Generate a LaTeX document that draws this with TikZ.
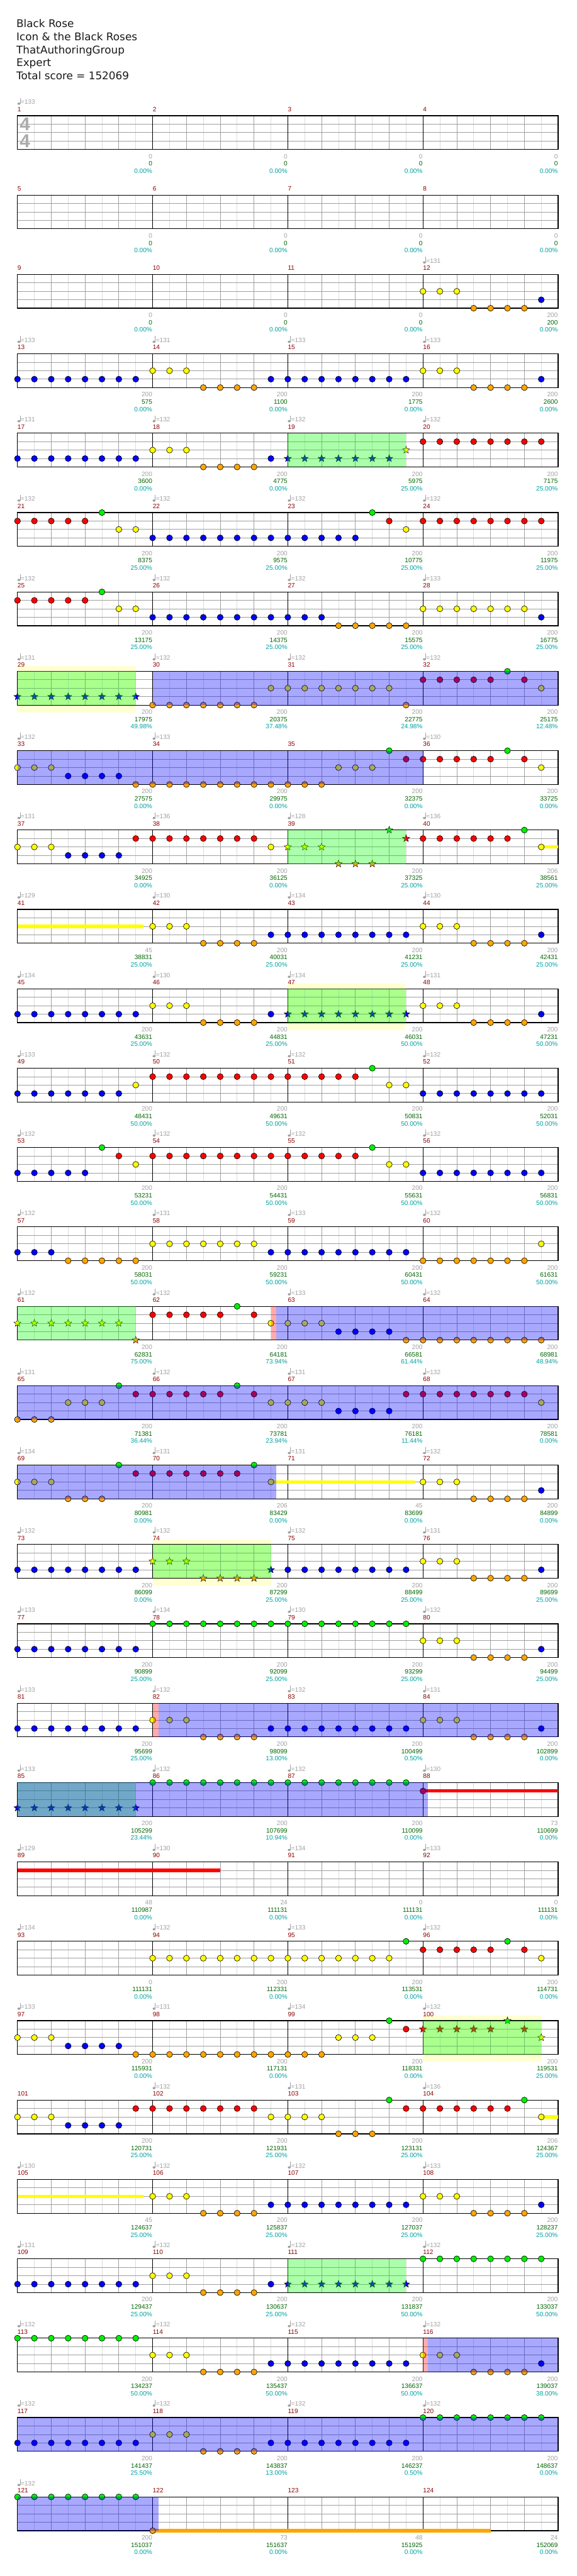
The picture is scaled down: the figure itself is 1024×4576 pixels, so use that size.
\documentclass[tikz,border=0pt]{standalone}
\usepackage{fontspec}
\setmainfont{Liberation Sans}
\newfontfamily\headfont{DejaVu Sans}
\usepackage{xcolor}
\usepackage{tikz}
\usetikzlibrary{shapes.geometric}

\definecolor{notegreen}{HTML}{00F000}
\definecolor{notered}{HTML}{FF0000}
\definecolor{noteyellow}{HTML}{FFFF00}
\definecolor{noteblue}{HTML}{0000FF}
\definecolor{noteorange}{HTML}{FFA500}
\definecolor{barred}{HTML}{8B0000}
\definecolor{labgray}{HTML}{A0A0A0}
\definecolor{scoregreen}{HTML}{006400}
\definecolor{pctcyan}{HTML}{00A0A0}
\definecolor{gridgray}{HTML}{A0A0A0}
\definecolor{gridlight}{HTML}{DCDCDC}
\definecolor{paleyellow}{HTML}{FFFFD2}
\definecolor{spgreen}{RGB}{0,255,0}
\definecolor{odblue}{RGB}{0,0,255}
\definecolor{odred}{RGB}{255,0,0}

% lane offsets (from top line of a staff)
\def\laneg{0}\def\laner{15}\def\laney{30}\def\laneb{45}\def\laneo{60}
\def\laneG{0}\def\laneR{15}\def\laneY{30}\def\laneB{45}\def\laneO{60}

% one note: #1 = eighth index, #2 = lane letter (capital = star note)
\newcommand{\fret}[2]{%
  \if#2-\else
    \edef\laneoff{\csname lane#2\endcsname}%
    \pgfmathsetmacro{\notex}{\barx+30*#1}%
    \pgfmathsetmacro{\notey}{\bary+\laneoff}%
    \ifnum\lccode`#2=`#2\relax
      \filldraw[fretnote, fret #2] (\notex,\notey) circle[radius=5.3pt];%
    \else
      \node[starnote, fret #2] (star\curbar-#1) at (\notex,\notey) {};%
    \fi
  \fi}
\def\parsefrets#1#2#3#4#5#6#7#8{\fret0#1\fret1#2\fret2#3\fret3#4\fret4#5\fret5#6\fret6#7\fret7#8}

% one measure: number, tempo, base, score, percent, notes
\newcommand{\chartbar}[6]{%
  \pgfmathsetmacro{\barx}{31+240*mod(#1-1,4)}%
  \pgfmathsetmacro{\bary}{205.5+141*int((#1-1)/4)}%
  \pgfmathsetmacro{\barend}{\barx+240}%
  \def\curbar{#1}%
  \node[barlabel] (bar#1) at (\barx,\bary-7.5) {#1};%
  \if\relax\detokenize{#2}\relax\else
    \fill[labgray] (\barx+2.5,\bary-21.3) ellipse[x radius=2.6pt, y radius=2pt];%
    \draw[labgray, line width=0.9pt] (\barx+4.8,\bary-21.3) -- (\barx+4.8,\bary-31.5);%
    \node[tempolabel] (tempo#1) at (\barx+5.6,\bary-20.2) {=#2};%
  \fi
  \node[baselabel] (base#1) at (\barend-0.5,\bary+76.3) {#3};%
  \node[scorelabel] (score#1) at (\barend-0.5,\bary+89.3) {#4};%
  \node[pctlabel] (pct#1) at (\barend-0.5,\bary+102.3) {#5\%};%
  \parsefrets#6%
}

% shaded zones: style, row, x1, x2
\newcommand{\zone}[4]{%
  \pgfmathsetmacro{\rowy}{205.5+141*#2}%
  \fill[#1] (#3,\rowy) rectangle (#4,\rowy+60);}
\newcommand{\whammyzone}[3]{%
  \pgfmathsetmacro{\rowy}{205.5+141*#1}%
  \fill[paleyellow] (#2,\rowy-9) rectangle (#3,\rowy+73);}
% sustain tails: colour, row, lane, x1, x2
\newcommand{\tail}[5]{%
  \pgfmathsetmacro{\rowy}{205.5+141*#2+#3}%
  \fill[#1] (#4,\rowy-3) rectangle (#5,\rowy+3);}

\begin{document}
\begin{tikzpicture}[
    x=1pt, y=-1pt,
    headline/.style={font=\headfont\fontsize{18.8}{20}\selectfont, anchor=base west, inner sep=0pt, text=black!90},
    barlabel/.style={font=\fontsize{11.3}{12}\selectfont, text=barred, anchor=base west, inner sep=0pt},
    tempolabel/.style={font=\fontsize{11.3}{12}\selectfont, text=labgray, anchor=base west, inner sep=0pt},
    baselabel/.style={font=\fontsize{11.3}{12}\selectfont, text=labgray, anchor=base east, inner sep=0pt},
    scorelabel/.style={font=\fontsize{11.3}{12}\selectfont, text=scoregreen, anchor=base east, inner sep=0pt},
    pctlabel/.style={font=\fontsize{11.3}{12}\selectfont, text=pctcyan, anchor=base east, inner sep=0pt},
    timesig/.style={font=\fontsize{33}{33}\selectfont\bfseries, text=black!33, anchor=base, inner sep=0pt},
    halfbeat/.style={draw=gridlight, line width=0.9pt},
    beatline/.style={draw=gridgray, line width=0.9pt},
    barline/.style={draw=black, line width=0.9pt},
    staffline/.style={draw=black, line width=1.3pt},
    fretnote/.style={draw=black, line width=0.7pt},
    starnote/.style={star, star points=5, star point ratio=2.4, minimum size=13.5pt, inner sep=0pt, draw=black, line width=0.5pt},
    fret g/.style={fill=notegreen}, fret G/.style={fill=notegreen},
    fret r/.style={fill=notered}, fret R/.style={fill=notered},
    fret y/.style={fill=noteyellow}, fret Y/.style={fill=noteyellow},
    fret b/.style={fill=noteblue}, fret B/.style={fill=noteblue},
    fret o/.style={fill=noteorange}, fret O/.style={fill=noteorange},
    spzone/.style={fill=spgreen, fill opacity=0.33},
    odzone/.style={fill=odblue, fill opacity=0.34},
    odstart/.style={fill=odred, fill opacity=0.33}
]
\useasboundingbox (0,0) rectangle (1024,4576);

% Header
\node[headline] (title) at (29,49) {Black Rose};
\node[headline] (artist) at (29,72) {Icon \& the Black Roses};
\node[headline] (charter) at (29,95) {ThatAuthoringGroup};
\node[headline] (level) at (29,118) {Expert};
\node[headline] (total) at (29,141) {Total score = 152069};

% Whammy zones
\whammyzone{7}{31}{241}
\whammyzone{11}{511}{721}
\whammyzone{18}{271}{481}
\whammyzone{24}{751}{961}

% Staves
\foreach \r in {0,...,30}{
  \pgfmathsetmacro{\rowy}{205.5+141*\r}
  \foreach \k in {0,...,15} \draw[halfbeat] ({61+60*\k},\rowy) -- ++(0,60);
  \foreach \k in {1,2,3,5,6,7,9,10,11,13,14,15} \draw[beatline] ({31+60*\k},\rowy) -- ++(0,60);
  \foreach \l in {15,30,45} \draw[beatline] (31,\rowy+\l) -- (991,\rowy+\l);
  \foreach \k in {1,2,3} \draw[barline] ({31+240*\k},\rowy) -- ++(0,60);
  \draw[staffline] (31,\rowy) rectangle (991,\rowy+60);
}
\node[timesig] (tsupper) at (44.2,232.3) {4};
\node[timesig] (tslower) at (44.2,262.3) {4};

% Sustains
\tail{noteyellow}{9}{30}{961}{991}
\tail{noteyellow}{10}{30}{31}{255}
\tail{noteyellow}{17}{30}{481}{736}
\tail{notered}{21}{15}{751}{991}
\tail{notered}{22}{15}{31}{391}
\tail{noteyellow}{25}{30}{961}{991}
\tail{noteyellow}{26}{30}{31}{255}
\tail{noteorange}{30}{60}{271}{871}

% Measures
\chartbar{1}{133}{0}{0}{0.00}{--------}
\chartbar{2}{}{0}{0}{0.00}{--------}
\chartbar{3}{}{0}{0}{0.00}{--------}
\chartbar{4}{}{0}{0}{0.00}{--------}
\chartbar{5}{}{0}{0}{0.00}{--------}
\chartbar{6}{}{0}{0}{0.00}{--------}
\chartbar{7}{}{0}{0}{0.00}{--------}
\chartbar{8}{}{0}{0}{0.00}{--------}
\chartbar{9}{}{0}{0}{0.00}{--------}
\chartbar{10}{}{0}{0}{0.00}{--------}
\chartbar{11}{}{0}{0}{0.00}{--------}
\chartbar{12}{131}{200}{200}{0.00}{yyyoooob}
\chartbar{13}{133}{200}{575}{0.00}{bbbbbbbb}
\chartbar{14}{131}{200}{1100}{0.00}{yyyoooob}
\chartbar{15}{133}{200}{1775}{0.00}{bbbbbbbb}
\chartbar{16}{133}{200}{2600}{0.00}{yyyoooob}
\chartbar{17}{131}{200}{3600}{0.00}{bbbbbbbb}
\chartbar{18}{132}{200}{4775}{0.00}{yyyoooob}
\chartbar{19}{132}{200}{5975}{25.00}{BBBBBBBY}
\chartbar{20}{132}{200}{7175}{25.00}{rrrrrrrr}
\chartbar{21}{132}{200}{8375}{25.00}{rrrrrgyy}
\chartbar{22}{132}{200}{9575}{25.00}{bbbbbbbb}
\chartbar{23}{132}{200}{10775}{25.00}{bbbbbgry}
\chartbar{24}{132}{200}{11975}{25.00}{rrrrrrrr}
\chartbar{25}{132}{200}{13175}{25.00}{rrrrrgyy}
\chartbar{26}{132}{200}{14375}{25.00}{bbbbbbbb}
\chartbar{27}{132}{200}{15575}{25.00}{bbbooooo}
\chartbar{28}{133}{200}{16775}{25.00}{yyyyyyyb}
\chartbar{29}{131}{200}{17975}{49.98}{BBBBBBBB}
\chartbar{30}{132}{200}{20375}{37.48}{oooooooy}
\chartbar{31}{132}{200}{22775}{24.98}{yyyyyyyo}
\chartbar{32}{132}{200}{25175}{12.48}{rrrrrgry}
\chartbar{33}{132}{200}{27575}{0.00}{yyybbbbo}
\chartbar{34}{133}{200}{29975}{0.00}{oooooooo}
\chartbar{35}{}{200}{32375}{0.00}{oooyyygr}
\chartbar{36}{130}{200}{33725}{0.00}{rrrrrgry}
\chartbar{37}{131}{200}{34925}{0.00}{yyybbbbr}
\chartbar{38}{136}{200}{36125}{0.00}{rrrrrrry}
\chartbar{39}{128}{200}{37325}{25.00}{YYYOOOGR}
\chartbar{40}{136}{206}{38561}{25.00}{rrrrrrgy}
\chartbar{41}{129}{45}{38831}{25.00}{--------}
\chartbar{42}{130}{200}{40031}{25.00}{yyyoooob}
\chartbar{43}{134}{200}{41231}{25.00}{bbbbbbbb}
\chartbar{44}{130}{200}{42431}{25.00}{yyyoooob}
\chartbar{45}{134}{200}{43631}{25.00}{bbbbbbbb}
\chartbar{46}{130}{200}{44831}{25.00}{yyyoooob}
\chartbar{47}{134}{200}{46031}{50.00}{BBBBBBBB}
\chartbar{48}{131}{200}{47231}{50.00}{yyyoooob}
\chartbar{49}{133}{200}{48431}{50.00}{bbbbbbby}
\chartbar{50}{132}{200}{49631}{50.00}{rrrrrrrr}
\chartbar{51}{132}{200}{50831}{50.00}{rrrrrgyy}
\chartbar{52}{132}{200}{52031}{50.00}{bbbbbbbb}
\chartbar{53}{132}{200}{53231}{50.00}{bbbbbgry}
\chartbar{54}{132}{200}{54431}{50.00}{rrrrrrrr}
\chartbar{55}{132}{200}{55631}{50.00}{rrrrrgyy}
\chartbar{56}{132}{200}{56831}{50.00}{bbbbbbbb}
\chartbar{57}{132}{200}{58031}{50.00}{bbbooooo}
\chartbar{58}{131}{200}{59231}{50.00}{yyyyyyyb}
\chartbar{59}{133}{200}{60431}{50.00}{bbbbbbbb}
\chartbar{60}{132}{200}{61631}{50.00}{oooooooy}
\chartbar{61}{132}{200}{62831}{75.00}{YYYYYYYO}
\chartbar{62}{132}{200}{64181}{73.94}{rrrrrgry}
\chartbar{63}{133}{200}{66581}{61.44}{yyybbbbo}
\chartbar{64}{132}{200}{68981}{48.94}{oooooooo}
\chartbar{65}{131}{200}{71381}{36.44}{oooyyygr}
\chartbar{66}{132}{200}{73781}{23.94}{rrrrrgry}
\chartbar{67}{131}{200}{76181}{11.44}{yyybbbbr}
\chartbar{68}{132}{200}{78581}{0.00}{rrrrrrry}
\chartbar{69}{134}{200}{80981}{0.00}{yyyooogr}
\chartbar{70}{131}{206}{83429}{0.00}{rrrrrrgy}
\chartbar{71}{131}{45}{83699}{0.00}{--------}
\chartbar{72}{132}{200}{84899}{0.00}{yyyoooob}
\chartbar{73}{132}{200}{86099}{0.00}{bbbbbbbb}
\chartbar{74}{132}{200}{87299}{25.00}{YYYOOOOB}
\chartbar{75}{132}{200}{88499}{25.00}{bbbbbbbb}
\chartbar{76}{131}{200}{89699}{25.00}{yyyoooob}
\chartbar{77}{133}{200}{90899}{25.00}{bbbbbbbb}
\chartbar{78}{134}{200}{92099}{25.00}{gggggggg}
\chartbar{79}{130}{200}{93299}{25.00}{gggggggg}
\chartbar{80}{132}{200}{94499}{25.00}{yyyoooob}
\chartbar{81}{133}{200}{95699}{25.00}{bbbbbbbb}
\chartbar{82}{132}{200}{98099}{13.00}{yyyoooob}
\chartbar{83}{132}{200}{100499}{0.50}{bbbbbbbb}
\chartbar{84}{131}{200}{102899}{0.00}{yyyoooob}
\chartbar{85}{133}{200}{105299}{23.44}{BBBBBBBB}
\chartbar{86}{132}{200}{107699}{10.94}{gggggggg}
\chartbar{87}{132}{200}{110099}{0.00}{gggggggg}
\chartbar{88}{130}{73}{110699}{0.00}{r-------}
\chartbar{89}{129}{48}{110987}{0.00}{--------}
\chartbar{90}{130}{24}{111131}{0.00}{--------}
\chartbar{91}{134}{0}{111131}{0.00}{--------}
\chartbar{92}{133}{0}{111131}{0.00}{--------}
\chartbar{93}{134}{0}{111131}{0.00}{--------}
\chartbar{94}{132}{200}{112331}{0.00}{yyyyyyyy}
\chartbar{95}{133}{200}{113531}{0.00}{yyyyyyyg}
\chartbar{96}{132}{200}{114731}{0.00}{rrrrrgry}
\chartbar{97}{133}{200}{115931}{0.00}{yyybbbbo}
\chartbar{98}{131}{200}{117131}{0.00}{oooooooo}
\chartbar{99}{134}{200}{118331}{0.00}{oooyyygr}
\chartbar{100}{132}{200}{119531}{25.00}{RRRRRGRY}
\chartbar{101}{}{200}{120731}{25.00}{yyybbbbr}
\chartbar{102}{132}{200}{121931}{25.00}{rrrrrrry}
\chartbar{103}{131}{200}{123131}{25.00}{yyyooogr}
\chartbar{104}{136}{206}{124367}{25.00}{rrrrrrgy}
\chartbar{105}{130}{45}{124637}{25.00}{--------}
\chartbar{106}{132}{200}{125837}{25.00}{yyyoooob}
\chartbar{107}{132}{200}{127037}{25.00}{bbbbbbbb}
\chartbar{108}{133}{200}{128237}{25.00}{yyyoooob}
\chartbar{109}{131}{200}{129437}{25.00}{bbbbbbbb}
\chartbar{110}{132}{200}{130637}{25.00}{yyyoooob}
\chartbar{111}{132}{200}{131837}{50.00}{BBBBBBBB}
\chartbar{112}{132}{200}{133037}{50.00}{gggggggg}
\chartbar{113}{132}{200}{134237}{50.00}{gggggggg}
\chartbar{114}{132}{200}{135437}{50.00}{yyyoooob}
\chartbar{115}{132}{200}{136637}{50.00}{bbbbbbbb}
\chartbar{116}{132}{200}{139037}{38.00}{yyyoooob}
\chartbar{117}{132}{200}{141437}{25.50}{bbbbbbbb}
\chartbar{118}{132}{200}{143837}{13.00}{yyyoooob}
\chartbar{119}{132}{200}{146237}{0.50}{bbbbbbbb}
\chartbar{120}{132}{200}{148637}{0.00}{gggggggg}
\chartbar{121}{132}{200}{151037}{0.00}{gggggggg}
\chartbar{122}{}{73}{151637}{0.00}{o-------}
\chartbar{123}{}{48}{151925}{0.00}{--------}
\chartbar{124}{}{24}{152069}{0.00}{--------}

% Star power zones
\zone{spzone}{4}{511}{721}
\zone{spzone}{7}{31}{241}
\zone{spzone}{9}{511}{721}
\zone{spzone}{11}{511}{721}
\zone{spzone}{15}{31}{241}
\zone{spzone}{18}{271}{481}
\zone{spzone}{21}{31}{241}
\zone{spzone}{24}{751}{961}
\zone{spzone}{27}{511}{721}

% Overdrive zones
\zone{odstart}{15}{481}{490}
\zone{odstart}{20}{271}{281}
\zone{odstart}{28}{751}{760}
\zone{odzone}{7}{271}{991}
\zone{odzone}{8}{31}{751}
\zone{odzone}{15}{490}{991}
\zone{odzone}{16}{31}{991}
\zone{odzone}{17}{31}{490}
\zone{odzone}{20}{281}{991}
\zone{odzone}{21}{31}{760}
\zone{odzone}{28}{760}{991}
\zone{odzone}{29}{31}{991}
\zone{odzone}{30}{31}{281}

\end{tikzpicture}
\end{document}
